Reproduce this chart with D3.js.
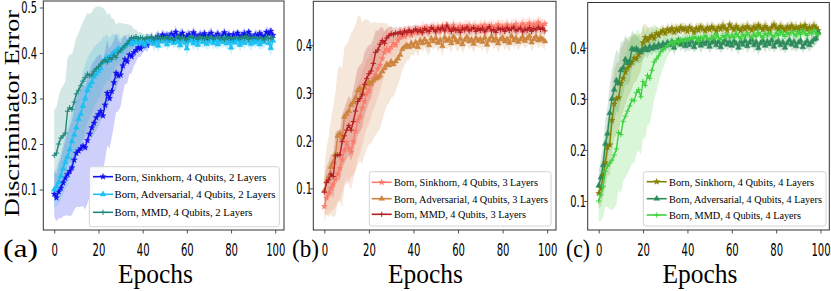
<!DOCTYPE html>
<html>
<head>
<meta charset="utf-8">
<script src="https://cdn.jsdelivr.net/npm/d3@7"></script>
<style>
  body { margin: 0; background: #fff; }
  svg { display: block; }
</style>
</head>
<body>
<div class="svg-container"></div>
<script>
// x axis: training epochs 0..99
var epochs = d3.range(0, 100);
var xTicks = [0, 20, 40, 60, 80, 100];
var yTicksA = [0.1, 0.2, 0.3, 0.4, 0.5];
var yTicksBC = [0.1, 0.2, 0.3, 0.4];
var panelTags = ["(a)", "(b)", "(c)"];
var methods = ["Sinkhorn", "Adversarial", "MMD"];
var layerCounts = [2, 3, 4];

// (a) 2 layers
var sinkA = [0.090,0.082,0.095,0.103,0.115,0.125,0.133,0.140,0.148,0.165,
  0.180,0.185,0.190,0.196,0.192,0.208,0.222,0.236,0.246,0.258,
  0.265,0.272,0.262,0.286,0.312,0.300,0.316,0.335,0.356,0.350,
  0.352,0.372,0.386,0.381,0.396,0.392,0.401,0.406,0.412,0.409,
  0.416,0.421,0.417,0.426,0.430,0.425,0.432,0.436,0.429,0.440,
  0.434,0.438,0.431,0.442,0.436,0.446,0.433,0.439,0.444,0.430,
  0.437,0.441,0.433,0.445,0.438,0.432,0.440,0.436,0.443,0.431,
  0.439,0.444,0.434,0.437,0.442,0.430,0.438,0.445,0.433,0.440,
  0.426,0.441,0.436,0.444,0.432,0.439,0.443,0.434,0.446,0.437,
  0.431,0.440,0.436,0.443,0.438,0.435,0.446,0.442,0.448,0.439];
var advA = [0.100,0.106,0.116,0.130,0.146,0.160,0.172,0.188,0.206,0.220,
  0.236,0.255,0.266,0.284,0.300,0.318,0.328,0.336,0.348,0.354,
  0.360,0.366,0.380,0.385,0.391,0.384,0.396,0.401,0.405,0.410,
  0.404,0.411,0.415,0.420,0.424,0.419,0.428,0.423,0.427,0.421,
  0.426,0.418,0.429,0.424,0.431,0.420,0.427,0.416,0.428,0.425,
  0.430,0.419,0.426,0.433,0.422,0.428,0.424,0.417,0.429,0.423,
  0.410,0.426,0.431,0.421,0.427,0.418,0.430,0.424,0.428,0.420,
  0.425,0.431,0.422,0.427,0.419,0.429,0.424,0.432,0.421,0.426,
  0.412,0.428,0.423,0.430,0.418,0.426,0.422,0.431,0.425,0.420,
  0.428,0.423,0.430,0.419,0.426,0.424,0.431,0.422,0.411,0.427];
var mmdA = [0.175,0.180,0.200,0.213,0.218,0.224,0.272,0.280,0.276,0.292,
  0.310,0.318,0.328,0.338,0.346,0.354,0.350,0.352,0.360,0.366,
  0.370,0.376,0.381,0.385,0.380,0.390,0.386,0.395,0.390,0.401,
  0.406,0.411,0.416,0.421,0.428,0.434,0.432,0.436,0.431,0.434,
  0.433,0.430,0.435,0.432,0.436,0.429,0.433,0.437,0.431,0.434,
  0.432,0.436,0.430,0.434,0.428,0.433,0.437,0.431,0.435,0.432,
  0.429,0.434,0.438,0.432,0.435,0.430,0.436,0.433,0.431,0.435,
  0.432,0.437,0.430,0.434,0.436,0.431,0.433,0.429,0.435,0.432,
  0.434,0.430,0.436,0.433,0.431,0.435,0.432,0.437,0.430,0.434,
  0.433,0.436,0.431,0.434,0.432,0.429,0.435,0.433,0.431,0.434];
var sdSinkA = [.050,.052,.058,.066,.074,.082,.090,.098,.104,.110,
  .118,.124,.128,.132,.136,.138,.140,.140,.136,.132,
  .130,.126,.122,.120,.116,.110,.102,.094,.086,.078,
  .070,.062,.054,.048,.042,.036,.030,.025,.021,.018,
  .016,.014,.015,.012,.013,.011,.012,.014,.010,.013,
  .012,.011,.014,.010,.012,.015,.011,.013,.012,.010,
  .013,.011,.012,.014,.010,.012,.013,.011,.012,.010,
  .012,.013,.011,.010,.012,.014,.011,.012,.010,.013,
  .014,.011,.012,.010,.013,.011,.012,.014,.010,.012,
  .011,.013,.012,.010,.012,.011,.013,.012,.010,.011];
var sdAdvA = [.040,.044,.048,.052,.056,.060,.064,.066,.068,.070,
  .072,.072,.074,.074,.074,.072,.070,.068,.066,.064,
  .062,.060,.056,.052,.050,.048,.044,.040,.036,.032,
  .028,.025,.022,.020,.018,.016,.015,.014,.013,.014,
  .015,.013,.016,.014,.012,.017,.014,.015,.013,.016,
  .014,.012,.015,.017,.013,.014,.016,.012,.015,.013,
  .018,.014,.013,.016,.012,.015,.014,.013,.016,.012,
  .015,.013,.014,.016,.012,.015,.013,.017,.014,.012,
  .018,.014,.015,.013,.016,.012,.014,.015,.013,.016,
  .014,.012,.015,.013,.016,.014,.012,.015,.018,.014];
var sdMmdA = [.100,.102,.105,.108,.110,.113,.116,.118,.120,.122,
  .124,.126,.128,.130,.132,.134,.136,.138,.138,.136,
  .132,.126,.118,.110,.104,.098,.090,.080,.072,.066,
  .060,.054,.048,.042,.034,.026,.020,.016,.014,.012,
  .010,.011,.009,.010,.012,.009,.011,.010,.008,.010,
  .011,.009,.010,.012,.008,.010,.011,.009,.010,.011,
  .009,.010,.012,.009,.011,.010,.008,.010,.011,.009,
  .010,.012,.009,.010,.011,.008,.010,.009,.011,.010,
  .009,.011,.010,.008,.012,.010,.009,.011,.010,.009,
  .011,.010,.009,.012,.010,.008,.011,.009,.010,.011];

// (b) 3 layers
var sinkB = [0.062,0.080,0.090,0.100,0.108,0.118,0.130,0.142,0.160,0.180,
  0.196,0.184,0.176,0.198,0.220,0.242,0.250,0.268,0.282,0.298,
  0.305,0.318,0.330,0.338,0.350,0.358,0.372,0.385,0.392,0.388,
  0.396,0.404,0.400,0.410,0.416,0.420,0.418,0.424,0.428,0.422,
  0.430,0.426,0.433,0.428,0.435,0.431,0.437,0.429,0.434,0.438,
  0.432,0.436,0.429,0.440,0.434,0.438,0.431,0.437,0.442,0.433,
  0.436,0.440,0.432,0.438,0.435,0.441,0.433,0.437,0.439,0.434,
  0.440,0.436,0.442,0.433,0.438,0.441,0.435,0.439,0.443,0.436,
  0.440,0.437,0.443,0.435,0.441,0.438,0.444,0.436,0.440,0.445,
  0.438,0.442,0.446,0.439,0.444,0.441,0.448,0.443,0.440,0.445];
var advB = [0.095,0.115,0.125,0.145,0.155,0.172,0.210,0.215,0.205,0.250,
  0.256,0.262,0.275,0.280,0.290,0.305,0.310,0.300,0.312,0.318,
  0.322,0.320,0.326,0.330,0.332,0.336,0.345,0.352,0.360,0.358,
  0.365,0.360,0.366,0.372,0.380,0.392,0.396,0.400,0.396,0.404,
  0.398,0.406,0.396,0.410,0.404,0.412,0.406,0.400,0.414,0.408,
  0.415,0.405,0.411,0.398,0.416,0.409,0.413,0.404,0.418,0.410,
  0.406,0.414,0.402,0.411,0.417,0.408,0.412,0.403,0.415,0.409,
  0.413,0.407,0.416,0.401,0.411,0.418,0.409,0.414,0.404,0.412,
  0.416,0.408,0.413,0.405,0.419,0.410,0.415,0.407,0.412,0.417,
  0.409,0.414,0.419,0.406,0.413,0.418,0.410,0.415,0.412,0.408];
var mmdB = [0.092,0.112,0.118,0.130,0.125,0.168,0.170,0.170,0.198,0.210,
  0.222,0.232,0.222,0.240,0.262,0.282,0.288,0.296,0.318,0.330,
  0.340,0.346,0.362,0.385,0.390,0.402,0.410,0.404,0.415,0.420,
  0.424,0.422,0.426,0.424,0.428,0.423,0.430,0.426,0.432,0.427,
  0.430,0.434,0.428,0.432,0.426,0.435,0.431,0.429,0.437,0.433,
  0.428,0.436,0.432,0.438,0.430,0.442,0.434,0.429,0.436,0.431,
  0.433,0.427,0.436,0.432,0.438,0.430,0.434,0.437,0.429,0.435,
  0.431,0.436,0.428,0.434,0.439,0.430,0.433,0.427,0.436,0.432,
  0.435,0.429,0.437,0.431,0.434,0.438,0.430,0.433,0.436,0.428,
  0.434,0.431,0.437,0.429,0.435,0.432,0.438,0.433,0.436,0.430];
var sdSinkB = [.030,.036,.042,.048,.054,.058,.062,.066,.070,.072,
  .074,.076,.078,.080,.080,.080,.078,.076,.074,.072,
  .070,.068,.066,.062,.058,.054,.050,.046,.042,.038,
  .034,.030,.027,.024,.021,.019,.017,.016,.015,.014,
  .013,.015,.012,.014,.016,.013,.011,.015,.014,.012,
  .016,.013,.014,.012,.015,.013,.016,.012,.014,.015,
  .013,.012,.015,.014,.016,.012,.013,.015,.014,.012,
  .015,.013,.014,.016,.012,.014,.015,.013,.012,.016,
  .014,.013,.015,.012,.014,.016,.013,.015,.012,.014,
  .016,.013,.014,.015,.012,.014,.013,.016,.014,.012];
var sdAdvB = [.050,.070,.085,.100,.115,.130,.138,.142,.145,.146,
  .146,.148,.150,.152,.154,.155,.152,.148,.142,.136,
  .130,.126,.122,.118,.114,.110,.102,.094,.086,.080,
  .074,.068,.062,.056,.050,.044,.038,.032,.027,.024,
  .020,.018,.021,.016,.019,.017,.020,.022,.016,.018,
  .017,.020,.016,.022,.015,.018,.017,.020,.014,.018,
  .020,.016,.019,.017,.015,.018,.016,.020,.017,.015,
  .018,.019,.015,.021,.017,.014,.018,.016,.019,.017,
  .015,.018,.016,.019,.014,.017,.016,.018,.015,.014,
  .017,.016,.014,.019,.015,.013,.017,.015,.016,.018];
var sdMmdB = [.030,.034,.038,.042,.046,.050,.052,.054,.056,.058,
  .060,.062,.064,.066,.068,.070,.070,.068,.066,.064,
  .060,.056,.052,.046,.040,.034,.028,.024,.020,.018,
  .016,.014,.013,.012,.012,.011,.012,.011,.010,.012,
  .011,.010,.012,.009,.011,.010,.012,.011,.009,.010,
  .012,.010,.011,.009,.013,.010,.011,.012,.010,.009,
  .011,.012,.010,.011,.009,.012,.010,.011,.012,.010,
  .009,.011,.012,.010,.011,.009,.012,.010,.011,.012,
  .010,.011,.009,.012,.010,.011,.012,.010,.009,.011,
  .012,.010,.011,.012,.009,.011,.010,.012,.011,.010];

// (c) 4 layers
var sinkC = [0.115,0.125,0.150,0.175,0.205,0.210,0.258,0.290,0.300,0.302,
  0.330,0.340,0.352,0.360,0.366,0.372,0.380,0.378,0.386,0.392,
  0.410,0.420,0.414,0.420,0.424,0.418,0.428,0.424,0.430,0.434,
  0.428,0.436,0.432,0.438,0.430,0.437,0.433,0.440,0.435,0.438,
  0.432,0.440,0.436,0.430,0.438,0.434,0.441,0.436,0.433,0.439,
  0.435,0.441,0.437,0.432,0.440,0.436,0.443,0.438,0.434,0.445,
  0.439,0.435,0.442,0.437,0.433,0.440,0.436,0.442,0.438,0.434,
  0.441,0.437,0.444,0.439,0.435,0.442,0.438,0.433,0.440,0.445,
  0.439,0.436,0.442,0.438,0.434,0.441,0.437,0.443,0.436,0.440,
  0.435,0.442,0.438,0.444,0.436,0.440,0.437,0.443,0.439,0.434];
var advC = [0.130,0.146,0.170,0.212,0.232,0.272,0.300,0.318,0.336,0.330,
  0.356,0.360,0.377,0.370,0.374,0.398,0.396,0.398,0.394,0.392,
  0.396,0.400,0.395,0.402,0.398,0.404,0.400,0.406,0.402,0.408,
  0.404,0.410,0.405,0.412,0.400,0.409,0.414,0.406,0.411,0.403,
  0.410,0.405,0.413,0.401,0.409,0.415,0.404,0.411,0.407,0.413,
  0.402,0.410,0.414,0.405,0.412,0.401,0.409,0.415,0.406,0.411,
  0.404,0.413,0.408,0.400,0.412,0.406,0.414,0.403,0.410,0.416,
  0.405,0.411,0.399,0.409,0.414,0.404,0.412,0.407,0.415,0.402,
  0.410,0.413,0.405,0.411,0.400,0.409,0.415,0.406,0.412,0.403,
  0.410,0.414,0.401,0.408,0.413,0.405,0.411,0.416,0.418,0.430];
var mmdC = [0.100,0.112,0.128,0.158,0.168,0.174,0.180,0.190,0.202,0.234,
  0.230,0.256,0.266,0.276,0.286,0.298,0.296,0.312,0.318,0.304,
  0.334,0.326,0.346,0.340,0.356,0.372,0.378,0.384,0.392,0.396,
  0.400,0.404,0.408,0.412,0.406,0.414,0.410,0.416,0.412,0.418,
  0.414,0.420,0.416,0.422,0.418,0.412,0.421,0.417,0.424,0.419,
  0.415,0.423,0.418,0.426,0.420,0.416,0.424,0.421,0.427,0.419,
  0.425,0.420,0.428,0.422,0.418,0.426,0.421,0.429,0.423,0.419,
  0.427,0.422,0.430,0.424,0.420,0.428,0.423,0.431,0.425,0.421,
  0.429,0.424,0.432,0.426,0.422,0.430,0.425,0.433,0.427,0.423,
  0.431,0.426,0.434,0.428,0.424,0.432,0.427,0.435,0.429,0.425];
var sdSinkC = [.030,.036,.042,.048,.054,.060,.064,.068,.070,.070,
  .068,.066,.064,.060,.056,.052,.048,.044,.040,.036,
  .032,.028,.024,.020,.018,.016,.014,.013,.012,.012,
  .011,.013,.010,.012,.014,.011,.012,.010,.013,.011,
  .012,.010,.013,.011,.012,.014,.010,.012,.011,.013,
  .010,.012,.011,.013,.010,.012,.014,.011,.012,.010,
  .013,.011,.012,.010,.014,.011,.012,.013,.010,.012,
  .011,.013,.010,.012,.011,.014,.012,.010,.013,.011,
  .012,.010,.013,.011,.012,.010,.014,.011,.012,.013,
  .010,.012,.011,.013,.010,.012,.011,.013,.012,.010];
var sdAdvC = [.030,.036,.042,.048,.052,.056,.058,.060,.060,.058,
  .056,.052,.048,.044,.040,.036,.032,.028,.024,.020,
  .018,.016,.015,.014,.013,.012,.013,.012,.011,.012,
  .013,.011,.014,.012,.015,.013,.011,.014,.012,.013,
  .015,.012,.013,.011,.014,.012,.015,.013,.011,.014,
  .012,.013,.015,.011,.014,.012,.013,.015,.012,.011,
  .014,.012,.013,.015,.011,.013,.012,.014,.013,.011,
  .015,.012,.014,.013,.011,.014,.012,.015,.013,.012,
  .014,.011,.013,.015,.012,.014,.011,.013,.015,.012,
  .013,.014,.012,.011,.015,.013,.012,.014,.012,.013];
var sdMmdC = [.040,.050,.060,.070,.080,.090,.098,.104,.108,.112,
  .116,.118,.120,.122,.124,.124,.122,.120,.118,.114,
  .110,.104,.098,.090,.082,.074,.064,.054,.044,.036,
  .028,.022,.018,.016,.014,.013,.012,.012,.011,.012,
  .010,.012,.009,.011,.013,.010,.012,.009,.011,.010,
  .012,.010,.011,.013,.009,.011,.010,.012,.011,.009,
  .011,.013,.010,.012,.009,.011,.010,.012,.013,.010,
  .012,.009,.011,.010,.013,.011,.012,.010,.009,.011,
  .010,.012,.011,.009,.013,.010,.011,.012,.010,.011,
  .012,.010,.013,.011,.009,.012,.010,.011,.012,.010];

var colorsA = ["#1010f0", "#1cc0f4", "#23877f"];
var colorsB = ["#fa7c6c", "#cd853f", "#b51f22"];
var colorsC = ["#857f00", "#2e8b5b", "#3fd03f"];

var svgWidth = 831, svgHeight = 291;
var serif = "'Liberation Serif', 'Times New Roman', serif";
var sans = "'DejaVu Sans', sans-serif";

var panels = [
  {left: 43.3, right: 284, top: 1, bottom: 230, yDomain: [0.011, 0.5143], yTicks: yTicksA,
   means: [sinkA, advA, mmdA], sds: [sdSinkA, sdAdvA, sdMmdA], colors: colorsA,
   leg: {x: 89.3, y: 166.7, w: 190, h: 60, rows: [180.7, 198.3, 216.3], lineX: 93, textX: 114.5, lens: [152, 161, 138]},
   tagX: 3, tagLen: 35, epochsX: 155.5, yLabX: 37},
  {left: 313.3, right: 556, top: 1.3, bottom: 230, yDomain: [0.0127, 0.492], yTicks: yTicksBC,
   means: [sinkB, advB, mmdB], sds: [sdSinkB, sdAdvB, sdMmdB], colors: colorsB,
   leg: {x: 369.3, y: 171.7, w: 181.7, h: 54.3, rows: [186.3, 202.7, 218.3], lineX: 371.7, textX: 394, lens: [144, 154, 132]},
   tagX: 292, tagLen: 27, epochsX: 425.5, yLabX: 312},
  {left: 587.7, right: 829.3, top: 2.5, bottom: 230, yDomain: [0.0432, 0.4885], yTicks: yTicksBC,
   means: [sinkC, advC, mmdC], sds: [sdSinkC, sdAdvC, sdMmdC], colors: colorsC,
   leg: {x: 643.3, y: 171.7, w: 182.7, h: 54.3, rows: [185.7, 202.7, 219], lineX: 646.7, textX: 669, lens: [145, 153, 132]},
   tagX: 566, tagLen: 24, epochsX: 700, yLabX: 586}
];

var svg = d3.select(".svg-container").append("svg")
  .attr("width", svgWidth)
  .attr("height", svgHeight);

function drawMarker(sel, kind, color) {
  if (kind === 0) {
    sel.append("path")
      .attr("d", d3.symbol().type(d3.symbolStar).size(11))
      .attr("fill", color).attr("stroke", color).attr("stroke-width", 0.5);
  } else if (kind === 1) {
    sel.append("path")
      .attr("d", d3.symbol().type(d3.symbolTriangle).size(14))
      .attr("fill", color).attr("stroke", color).attr("stroke-width", 0.5);
  } else {
    sel.append("path")
      .attr("d", "M-2.6,0H2.6M0,-2.6V2.6")
      .attr("fill", "none").attr("stroke", color).attr("stroke-width", 1);
  }
}

panels.forEach(function(p, pi) {
  var g = svg.append("g");
  var x = d3.scaleLinear().domain([-4.95, 103.95]).range([p.left, p.right]);
  var y = d3.scaleLinear().domain(p.yDomain).range([p.bottom, p.top]);

  var clipId = "clip" + pi;
  svg.append("clipPath").attr("id", clipId).append("rect")
    .attr("x", p.left).attr("y", p.top)
    .attr("width", p.right - p.left).attr("height", p.bottom - p.top);

  var plot = g.append("g").attr("clip-path", "url(#" + clipId + ")");

  // shaded spread
  p.means.forEach(function(m, si) {
    var sd = p.sds[si];
    var area = d3.area()
      .x(function(d) { return x(d); })
      .y0(function(d) { return y(m[d] - sd[d]); })
      .y1(function(d) { return y(m[d] + sd[d]); });
    plot.append("path")
      .datum(epochs)
      .attr("d", area)
      .attr("fill", p.colors[si])
      .attr("fill-opacity", 0.2);
  });

  // mean curves with markers
  p.means.forEach(function(m, si) {
    var line = d3.line()
      .x(function(d) { return x(d); })
      .y(function(d) { return y(m[d]); });
    plot.append("path")
      .datum(epochs)
      .attr("d", line)
      .attr("fill", "none")
      .attr("stroke", p.colors[si])
      .attr("stroke-width", 1.4)
      .attr("stroke-linejoin", "round");
    plot.append("g").selectAll("g")
      .data(epochs)
      .enter().append("g")
      .attr("transform", function(d) { return "translate(" + x(d) + "," + y(m[d]) + ")"; })
      .each(function() { drawMarker(d3.select(this), si, p.colors[si]); });
  });

  // axes
  var xAxis = g.append("g")
    .attr("transform", "translate(0," + p.bottom + ")")
    .call(d3.axisBottom(x).tickValues(xTicks).tickSize(3.5).tickPadding(2).tickFormat(d3.format("d")));
  xAxis.select(".domain").remove();
  xAxis.selectAll("line").attr("stroke", "#222").attr("stroke-width", 0.8);
  xAxis.selectAll("text")
    .attr("font-family", sans).attr("font-size", 18).attr("fill", "#000")
    .attr("y", 0).attr("dy", 0)
    .attr("transform", "translate(0,26) scale(0.56,1)");

  var yAxis = g.append("g")
    .attr("transform", "translate(" + p.left + ",0)")
    .call(d3.axisLeft(y).tickValues(p.yTicks).tickSize(3.5).tickFormat(d3.format(".1f")));
  yAxis.select(".domain").remove();
  yAxis.selectAll("line").attr("stroke", "#222").attr("stroke-width", 0.8);
  yAxis.selectAll("text")
    .attr("font-family", sans).attr("font-size", 15).attr("fill", "#000")
    .attr("x", 0).attr("dy", "0.36em")
    .attr("transform", "translate(" + (p.yLabX - p.left) + ",0) scale(0.66,1)");

  // frame
  g.append("rect")
    .attr("x", p.left).attr("y", p.top)
    .attr("width", p.right - p.left).attr("height", p.bottom - p.top)
    .attr("fill", "none").attr("stroke", "#333").attr("stroke-width", 1);

  // legend
  var L = p.leg;
  var leg = g.append("g");
  leg.append("rect")
    .attr("x", L.x).attr("y", L.y).attr("width", L.w).attr("height", L.h)
    .attr("rx", 2.5)
    .attr("fill", "#fff").attr("fill-opacity", 0.85)
    .attr("stroke", "#d4d4d4").attr("stroke-width", 1);
  methods.forEach(function(name, si) {
    var ry = L.rows[si] - 4;
    leg.append("line")
      .attr("x1", L.lineX).attr("x2", L.lineX + 20)
      .attr("y1", ry).attr("y2", ry)
      .attr("stroke", p.colors[si]).attr("stroke-width", 1.6);
    var mk = leg.append("g").attr("transform", "translate(" + (L.lineX + 10) + "," + ry + ")");
    drawMarker(mk, si, p.colors[si]);
    leg.append("text")
      .attr("x", L.textX).attr("y", L.rows[si])
      .attr("font-family", serif).attr("font-size", 10.4)
      .attr("textLength", L.lens[si]).attr("lengthAdjust", "spacingAndGlyphs")
      .text("Born, " + name + ", 4 Qubits, " + layerCounts[pi] + " Layers");
  });

  // panel tag and x label
  g.append("text")
    .attr("x", p.tagX).attr("y", 257)
    .attr("font-family", serif).attr("font-size", 26)
    .attr("textLength", p.tagLen).attr("lengthAdjust", "spacingAndGlyphs")
    .text(panelTags[pi]);
  g.append("text")
    .attr("x", p.epochsX).attr("y", 283)
    .attr("text-anchor", "middle")
    .attr("font-family", serif).attr("font-size", 27)
    .attr("textLength", 75).attr("lengthAdjust", "spacingAndGlyphs")
    .text("Epochs");
});

svg.append("text")
  .attr("transform", "translate(19,113.5) rotate(-90)")
  .attr("text-anchor", "middle")
  .attr("font-family", serif).attr("font-size", 21)
  .attr("textLength", 207).attr("lengthAdjust", "spacingAndGlyphs")
  .text("Discriminator Error");
</script>
</body>
</html>
